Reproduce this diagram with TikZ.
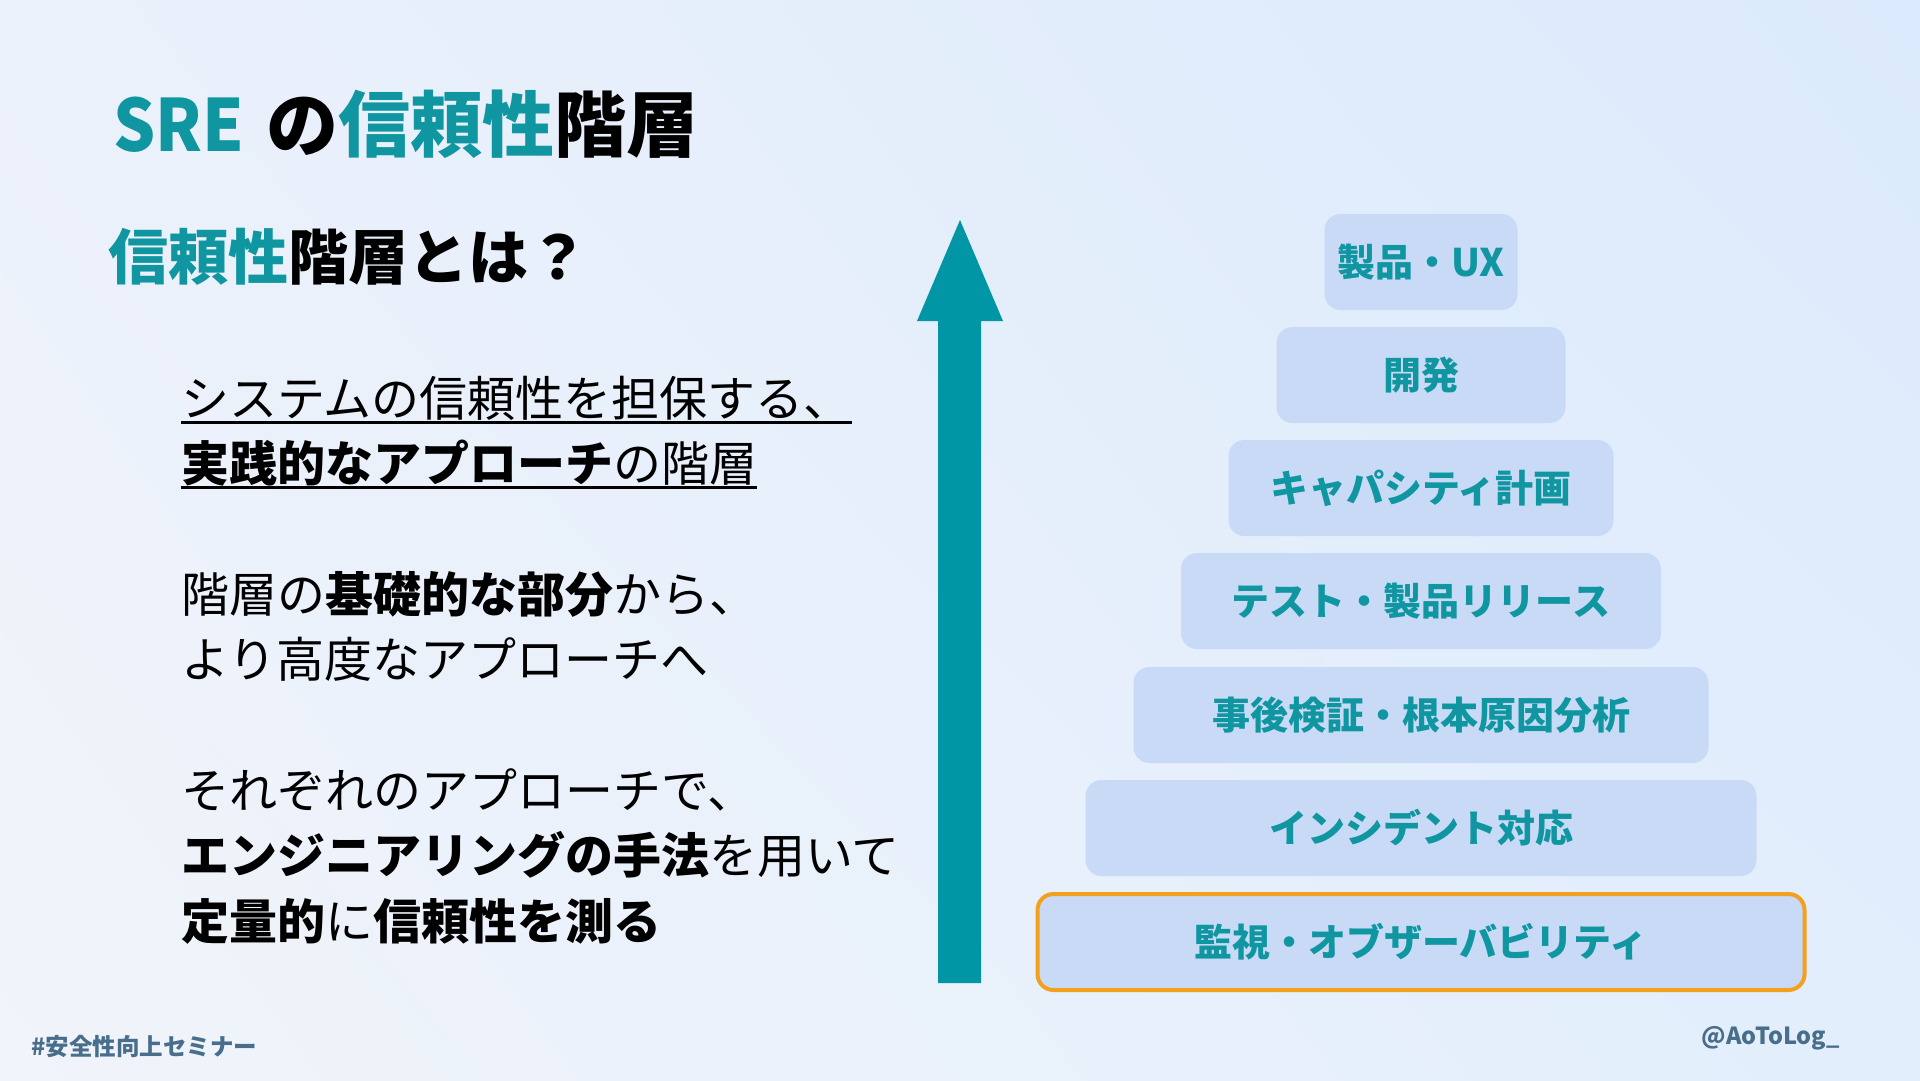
\documentclass[tikz,border=0pt]{standalone}
\usepackage{fontspec}
\setmainfont{Noto Sans CJK JP}
\definecolor{SreTeal}{RGB}{16,150,160}
\definecolor{ArrowTeal}{RGB}{0,150,165}
\definecolor{LayerBlue}{RGB}{200,218,246}
\definecolor{FocusOrange}{RGB}{243,160,30}
\definecolor{FootGray}{RGB}{72,110,140}
\definecolor{BgUL}{RGB}{235,241,251}
\definecolor{BgUR}{RGB}{219,234,252}
\definecolor{BgLL}{RGB}{241,244,250}
\definecolor{BgLR}{RGB}{226,238,252}
\usetikzlibrary{positioning,shadings}
\tikzset{layerbox/.style={rounded corners=16pt,fill=LayerBlue,text=SreTeal,inner sep=0pt,minimum height=96pt,text height=32pt,text depth=3pt,font=\fontsize{38}{44}\selectfont\bfseries}}
\tikzset{bodytext/.style={anchor=base west,inner sep=0pt,font=\fontsize{48}{56}\selectfont}}
\tikzset{uline/.style={line width=3pt}}
\tikzset{foottext/.style={inner sep=0pt,text=FootGray,font=\fontsize{23.5}{28}\selectfont\bfseries}}

\begin{document}
\begin{tikzpicture}[x=1pt,y=-1pt]
        % background
        \shade[upper left=BgUL,upper right=BgUR,lower left=BgLL,lower right=BgLR] (0,0) rectangle (1920,1080);
        \useasboundingbox (0,0) rectangle (1920,1080);
        % headings
        \node[anchor=base west,inner sep=0pt,font=\fontsize{72}{80}\selectfont\bfseries](title) at (113,151)
            {\textcolor{SreTeal}{\scalebox{0.92}[1]{SRE}}\hspace{6pt} の\textcolor{SreTeal}{信頼性}階層};
        \node[anchor=base west,inner sep=0pt,font=\fontsize{60}{68}\selectfont\bfseries](sub) at (108,279)
            {\textcolor{SreTeal}{信頼性}階層とは？};
        % left text
        \node[bodytext](l1) at (181,416) {システムの信頼性を担保する、};
        \node[bodytext](l2) at (181,481) {\textbf{実践的なアプローチ}の階層};
        \node[bodytext](l3) at (181,612) {階層の\textbf{基礎的な部分}から、};
        \node[bodytext](l4) at (181,677) {より高度なアプローチへ};
        \node[bodytext](l5) at (181,808) {それぞれのアプローチで、};
        \node[bodytext](l6) at (181,873) {\textbf{エンジニアリングの手法}を用いて};
        \node[bodytext](l7) at (181,939) {\textbf{定量的}に\textbf{信頼性を測る}};
        \draw[uline] ([yshift=-6pt]l1.base west) -- ([yshift=-6pt]l1.base east);
        \draw[uline] ([yshift=-6pt]l2.base west) -- ([yshift=-6pt]l2.base east);
        % arrow
        \fill[ArrowTeal] (938,983) -- (938,321) -- (917,321) -- (960,220) -- (1003,321) -- (981,321) -- (981,983) -- cycle;
        % layers
        \node[layerbox,minimum width=193pt](ux) at (1421,262) {製品・UX};
        \node[layerbox,minimum width=289pt](dev) at (1421,375) {開発};
        \node[layerbox,minimum width=385pt](cap) at (1421,488) {キャパシティ計画};
        \node[layerbox,minimum width=480pt](test) at (1421,601) {テスト・製品リリース};
        \node[layerbox,minimum width=575pt](pm) at (1421,715) {事後検証・根本原因分析};
        \node[layerbox,minimum width=671pt](inc) at (1421,828) {インシデント対応};
        \node[layerbox,minimum width=767pt,draw=FocusOrange,line width=4pt](mon) at (1421,942) {監視・オブザーバビリティ};
        % footer
        \node[foottext,anchor=west](tag) at (31,1047) {\#安全性向上セミナー};
        \node[foottext,anchor=east](acct) at (1840,1038) {@AoToLog\_};
    \end{tikzpicture}
\end{document}
